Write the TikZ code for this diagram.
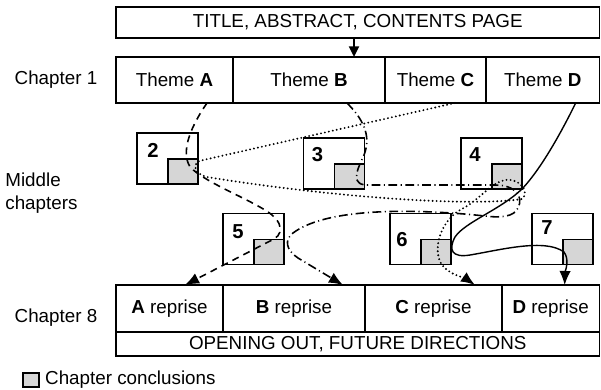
\documentclass[tikz,border=0pt]{standalone}
\usepackage{fontspec}
\setmainfont{Liberation Sans}
\usetikzlibrary{arrows.meta, calc, positioning}
\definecolor{conclgray}{RGB}{214,214,214}

\tikzset{
  box/.style={draw, line width=0.7pt, inner sep=0pt, outer sep=0pt},
  chap/.style={box, minimum width=1.22cm, minimum height=1.02cm},
  concl/.style={box, fill=conclgray, minimum width=0.6cm, minimum height=0.5cm},
  num/.style={font=\fontsize{11.5}{13}\selectfont\bfseries},
  tip/.style={-{Latex[length=8pt,width=6.5pt]}},
  threadA/.style={tip, line width=0.9pt, dash pattern=on 4pt off 3pt},
  threadB/.style={tip, line width=0.9pt, dash pattern=on 5pt off 2pt on 0.6pt off 2pt},
  threadC/.style={tip, line width=1.2pt, line cap=round, dash pattern=on 0pt off 2.3pt},
  threadD/.style={tip, line width=0.8pt}
}

\begin{document}
\begin{tikzpicture}[x=0.02cm, y=-0.02cm, font=\fontsize{10.7}{13}\selectfont]
    \useasboundingbox (0,0) rectangle (601,389);

    % Front matter and chapter 1
    \node[box, minimum width=9.67cm, minimum height=0.62cm, anchor=north west] (title) at (116,7) {TITLE, ABSTRACT, CONTENTS PAGE};
    \node[box, minimum width=2.34cm, minimum height=0.92cm, anchor=north west] (thA) at (116,57) {Theme \textbf{A}};
    \node[box, minimum width=3.04cm, minimum height=0.92cm, right=0pt of thA] (thB) {Theme \textbf{B}};
    \node[box, minimum width=2.02cm, minimum height=0.92cm, right=0pt of thB] (thC) {Theme \textbf{C}};
    \node[box, minimum width=2.27cm, minimum height=0.92cm, right=0pt of thC] (thD) {Theme \textbf{D}};
    \draw[line width=1.6pt, -{Triangle[length=6pt,width=5.5pt]}] (title.south -| 354,0) -- (thB.north -| 354,0);

    % Chapter 8
    \node[box, minimum width=2.14cm, minimum height=0.94cm, anchor=north west] (rpA) at (116,285) {\textbf{A} reprise};
    \node[box, minimum width=2.84cm, minimum height=0.94cm, right=0pt of rpA] (rpB) {\textbf{B} reprise};
    \node[box, minimum width=2.74cm, minimum height=0.94cm, right=0pt of rpB] (rpC) {\textbf{C} reprise};
    \node[box, minimum width=1.95cm, minimum height=0.94cm, right=0pt of rpC] (rpD) {\textbf{D} reprise};
    \node[box, minimum width=9.67cm, minimum height=0.48cm, anchor=north west] (future) at (rpA.south west) {OPENING OUT, FUTURE DIRECTIONS};

    % Row labels
    \node (lab1) at (56,80) {Chapter 1};
    \node[align=left, anchor=west, inner sep=0pt] (labmid) at (5,193) {Middle\\chapters};
    \node (lab8) at (56,318) {Chapter 8};

    % Middle chapters with their conclusions
    \foreach \n/\x/\y/\dx/\dy in {2/167.5/158.5/16/17, 3/334/163.5/14/17, 4/491.5/163.5/14/17,
                                  5/253.5/239/15/18, 6/420.5/239/12/26, 7/562.5/239/15/14}{
        \node[chap] (ch\n) at (\x,\y) {};
        \node[concl, anchor=south east] (g\n) at (ch\n.south east) {};
        \node[num] (n\n) at ($(ch\n.north west)+(\dx,\dy)$) {\n};
    }

    % Thread A
    \draw[threadA] ($(thA.south east)+(-26,0)$) .. controls (192,125) and (180,150) .. (190,167)
        .. controls (205,182) and (240,195) .. (265,210)
        .. controls (285,222) and (284,236) .. (270,241) -- ($(rpA.north)+(15.5,0)$);

    % Thread B
    \draw[threadB] ($(thB.south)+(38,0)$) .. controls (362,118) and (372,135) .. (364,155)
        .. controls (356,172) and (350,186) .. (370,185) -- (495,185)
        .. controls (515,185) and (524,196) .. (518,208)
        .. controls (514,217) and (500,218) .. (485,216)
        .. controls (430,210) and (330,205) .. (293,233)
        .. controls (284,240) and (286,250) .. (298,258) -- ($(rpB.north)+(49,0)$);

    % Thread C
    \draw[threadC] ($(thC.south)+(19.5,0)$) -- (199,161)
        .. controls (193,165) and (193,173) .. (207,177)
        .. controls (330,197) and (470,207) .. (522,199)
        .. controls (530,192) and (520,178) .. (505,180)
        .. controls (490,183) and (480,200) .. (460,210)
        .. controls (440,222) and (432,250) .. (442,265)
        .. controls (450,275) and (465,278) .. ($(rpC.north)+(41.5,0)$);

    % Thread D
    \draw[threadD] ($(thD.south)+(33,0)$) .. controls (560,135) and (540,170) .. (522,189)
        .. controls (500,210) and (465,222) .. (455,237)
        .. controls (448,250) and (452,258) .. (470,255)
        .. controls (500,250) and (545,238) .. (564,252)
        .. controls (570,260) and (565,272) .. ($(rpD.north)+(14,0)$);

    % Key
    \node[concl, minimum width=0.32cm, minimum height=0.28cm] (key) at (31,380) {};
    \node[right=0pt of key] (keytxt) {Chapter conclusions};
\end{tikzpicture}
\end{document}
